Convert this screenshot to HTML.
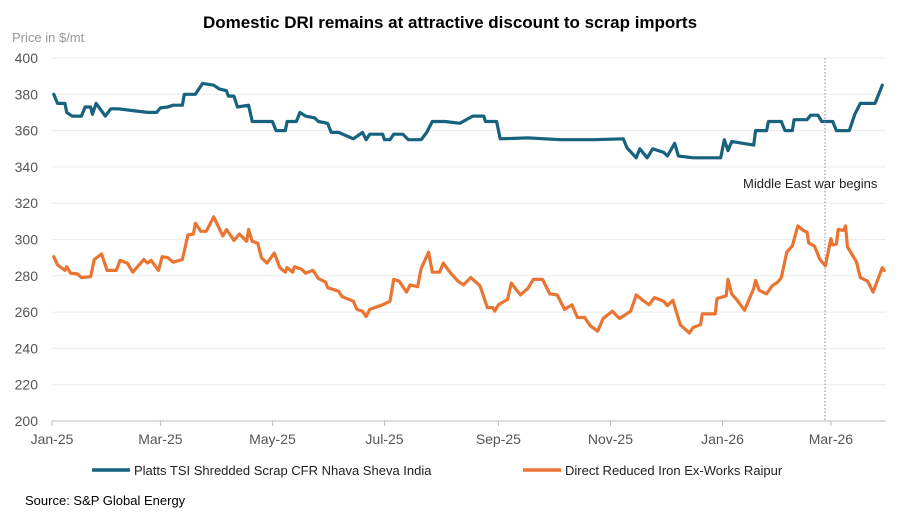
<!DOCTYPE html>
<html><head><meta charset="utf-8"><style>
body{margin:0;background:#fff;font-family:"Liberation Sans",Arial,sans-serif;}
svg text{font-family:"Liberation Sans",Arial,sans-serif;}
</style></head><body>
<svg id="chart" width="901" height="520">
<text x="450" y="28" text-anchor="middle" font-size="17" font-weight="bold" fill="#000">Domestic DRI remains at attractive discount to scrap imports</text>
<text x="12" y="42" font-size="13" fill="#999">Price in $/mt</text>
<g id="grid"></g><g id="yt"></g><g id="xt"></g><g id="series"></g>
<line x1="825" y1="58" x2="825" y2="421" stroke="#888" stroke-width="1" stroke-dasharray="1.5,2"/>
<text x="743" y="188" font-size="13" fill="#222">Middle East war begins</text>
<line x1="92" y1="470" x2="130" y2="470" stroke="#17627f" stroke-width="3.5"/>
<text x="134" y="475" font-size="13" fill="#222">Platts TSI Shredded Scrap CFR Nhava Sheva India</text>
<line x1="523" y1="470" x2="561" y2="470" stroke="#ea7431" stroke-width="3.5"/>
<text x="565" y="475" font-size="13" fill="#222">Direct Reduced Iron Ex-Works Raipur</text>
<text x="25" y="505" font-size="13" fill="#000">Source: S&amp;P Global Energy</text>
</svg>
<script>
const yTicks=[200,220,240,260,280,300,320,340,360,380,400];
const xTickLabels=["Jan-25","Mar-25","May-25","Jul-25","Sep-25","Nov-25","Jan-26","Mar-26"];
const xTickDays=[0,59,120,181,243,304,365,424];
const scrapDays=[1,3,7,8,11,16,18,21,22,24,29,32,36,44,52,57,59,63,66,71,72,78,82,88,91,95,96,99,101,107,109,120,122,127,128,133,135,138,143,145,150,152,156,164,169,171,173,180,181,184,186,191,194,201,204,207,214,222,229,235,236,242,244,259,277,295,311,313,318,320,324,327,333,335,339,341,349,364,366,368,370,376,382,383,389,390,397,399,403,404,411,413,417,419,425,427,434,437,440,448,452];
const scrapVals=[380,375,375,370,368,368,373,373,369,375,368,372,372,371,370,370,372.5,373,374,374,380,380,386,385,383,382,379,379,373,374,365,365,360,360,365,365,370,368,367,365,364,359,359,355.5,359,355,358,358,355,355,358,358,355,355,359,365,365,364,368,368,365,365,355.5,356,355,355,355.5,350.5,345,350,345,350,348,346,353,346,345,345,355,349,354,353,352,360,360,365,365,360,360,366,366,368.5,368.5,365,365,360,360,369,375,375,385];
const driDays=[1,3,7,8,10,14,16,21,23,27,30,35,37,41,44,47,50,52,54,58,60,63,66,71,74,77,78,81,84,88,93,95,99,102,106,107,109,112,114,117,121,124,127,128,131,132,136,138,142,145,149,150,156,158,164,166,169,171,173,177,180,184,186,189,193,195,199,201,205,207,211,213,217,221,224,228,233,237,240,241,243,248,250,255,259,262,267,271,275,279,283,286,290,293,297,300,305,309,315,318,321,325,328,333,335,338,342,347,349,353,354,361,362,367,368,370,373,377,382,383,385,389,392,395,397,400,403,406,409,411,412,415,418,421,424,425,427,428,431,432,433,438,440,444,447,452,453];
const driVals=[290.5,286,283,285,281.5,281,279,279.5,289,292,283,283,288.5,287,282,285.5,289,287,288.5,283,290.5,290,287.5,289,302.5,303,309,304.5,304.5,312.5,302,305.5,299.5,303,299,305.5,299,298,290,287,292.5,284.5,282,284.5,282,285,283.5,281.5,283,278.5,276.5,273.5,271.5,268.5,266,261.5,260.5,257.5,261.5,263,264,266,278,277,271,275,274,284,293,282,282,287,281.5,277,275,279,274.5,262.5,262.5,260.5,264,267,276,269.5,273,278,278,270,269.5,261.5,264,257,257,252.5,249.5,256.5,260.5,256.5,260.5,269.5,267,264,268,266,263.5,266.5,253,248.5,251.5,253,259,259,267.5,269,278,270,266.5,261,273,277.5,272,270,274.5,276.5,279,293,296.5,307.5,305,304,298,296.5,289,285.5,300.5,297,297.5,305.5,305,307.5,296,287.5,279,277,271,284.5,283];
const NS="http://www.w3.org/2000/svg";
const X0=52,PXD=1.837,Y0=421,PXV=363/200;
function xs(d){return X0+d*PXD;}
function ys(v){return Y0-(v-200)*PXV;}
function mk(t,a,p){const e=document.createElementNS(NS,t);for(const k in a)e.setAttribute(k,a[k]);p.appendChild(e);return e;}
const grid=document.getElementById('grid'),yt=document.getElementById('yt'),xt=document.getElementById('xt'),ser=document.getElementById('series');
yTicks.forEach(v=>{
  if(v>200){const g=mk('line',{x1:X0,x2:886,y1:ys(v),y2:ys(v),stroke:'#ececec','stroke-width':1},grid);
  
  }
  const t=mk('text',{x:38,y:ys(v)+5,'text-anchor':'end','font-size':14,fill:'#555'},yt);
  t.textContent=v;
  
  
});
const ax=mk('line',{x1:X0,x2:886,y1:Y0,y2:Y0,stroke:'#bbb','stroke-width':1},grid);


xTickLabels.forEach((l,i)=>{
  const x=xs(xTickDays[i]);
  const tk=mk('line',{x1:x,x2:x,y1:Y0,y2:Y0+5,stroke:'#bbb'},xt);
  
  
  const t=mk('text',{x:x,y:444,'text-anchor':'middle','font-size':14,fill:'#555'},xt);
  t.textContent=l;
  
  
});
function line(days,vals,col,name){
  const d=days.map((dd,i)=>(i?'L':'M')+xs(dd).toFixed(1)+','+ys(vals[i]).toFixed(1)).join('');
  const p=mk('path',{d:d,fill:'none',stroke:col,'stroke-width':3.2,'stroke-linejoin':'round','stroke-linecap':'round'},ser);
  
  
}
line(driDays,driVals,'#ea7431','dri-line');
line(scrapDays,scrapVals,'#17627f','scrap-line');
</script>
</body></html>
